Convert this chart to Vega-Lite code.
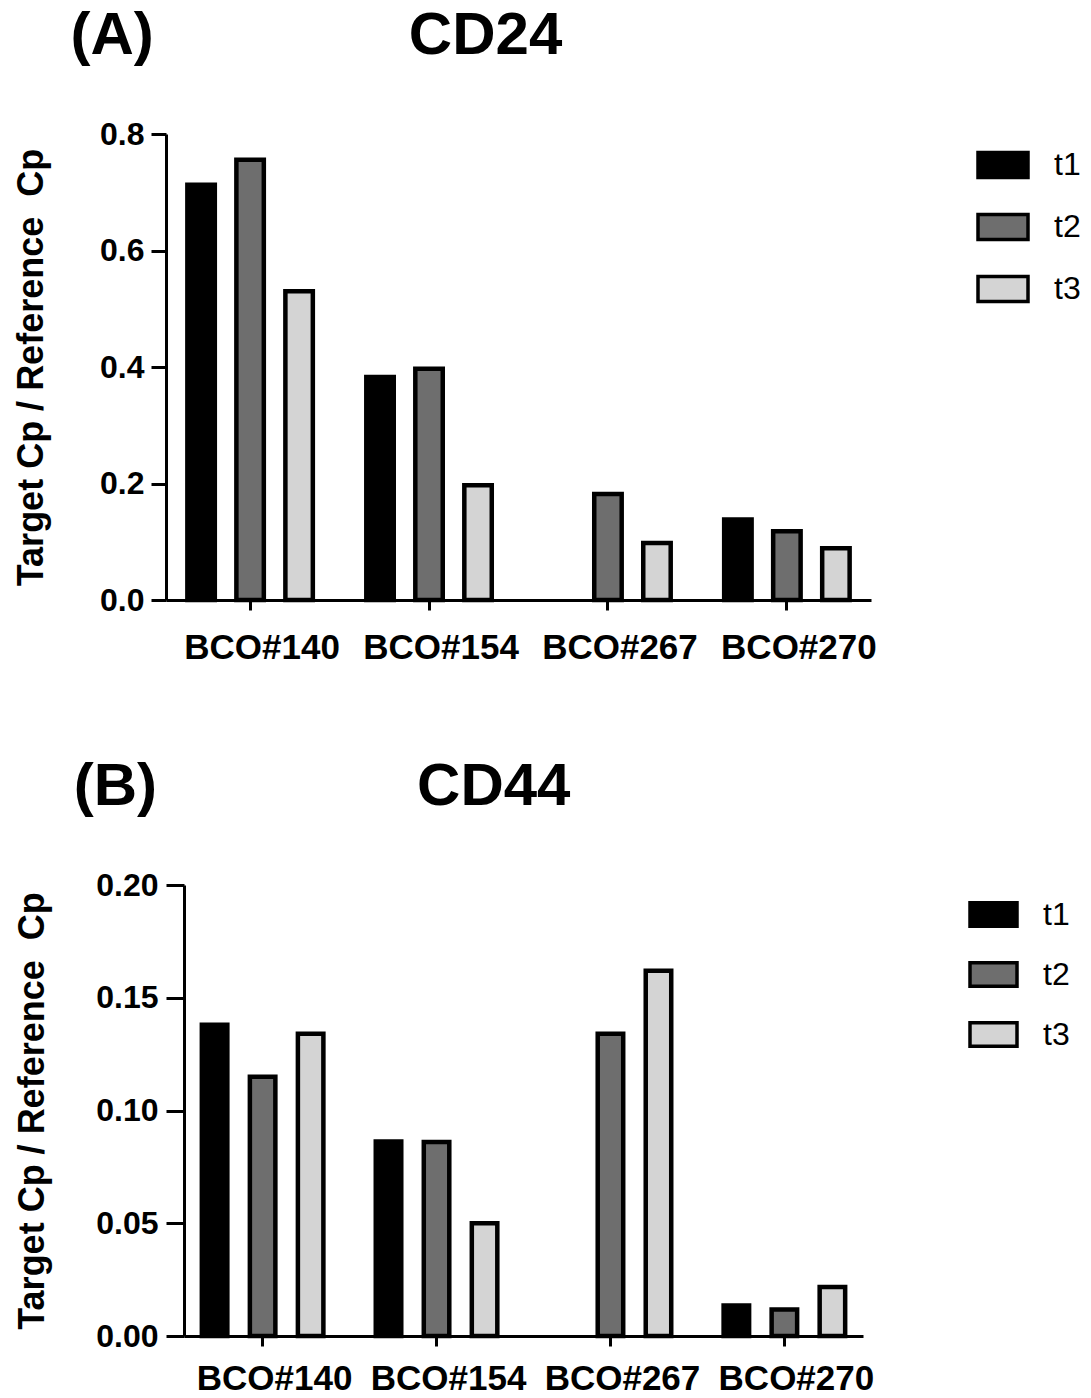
{
  "$schema": "https://vega.github.io/schema/vega-lite/v6.json",
  "background": "white",
  "padding": {"left": 13, "top": 6, "right": 5, "bottom": 5},
  "config": {
    "font": "Liberation Sans",
    "view": {"stroke": null},
    "axis": {
      "grid": false,
      "domainColor": "black",
      "domainWidth": 3,
      "tickColor": "black",
      "tickWidth": 3,
      "labelColor": "black",
      "titleColor": "black",
      "labelFont": "Liberation Sans",
      "titleFont": "Liberation Sans",
      "labelFontWeight": "bold",
      "titleFontWeight": "bold"
    },
    "legend": {
      "title": null,
      "orient": "right",
      "offset": 101,
      "padding": 4,
      "symbolType": "M-1,-0.5H1V0.5H-1Z",
      "symbolSize": 2500,
      "symbolStrokeColor": "black",
      "symbolStrokeWidth": 3.5,
      "labelFont": "Liberation Sans",
      "labelFontSize": 32,
      "labelFontWeight": "normal",
      "labelColor": "black",
      "labelOffset": 24,
      "rowPadding": 15
    },
    "title": {"font": "Liberation Sans", "fontWeight": "bold", "color": "black"}
  },
  "spacing": 92,
  "resolve": {
    "scale": {"x": "independent", "y": "independent", "xOffset": "independent", "color": "independent"}
  },
  "vconcat": [
    {
      "title": {"text": "(A)\u00a0\u00a0\u00a0\u00a0\u00a0\u00a0\u00a0\u00a0\u00a0\u00a0\u00a0\u00a0\u00a0\u00a0\u00a0\u200aCD24", "anchor": "start", "frame": "bounds", "dx": 57, "fontSize": 60, "offset": 51},
      "width": 705,
      "height": 466,
      "data": {
        "values": [
          {"line": "BCO#140", "time": "t1", "value": 0.713},
          {"line": "BCO#140", "time": "t2", "value": 0.756},
          {"line": "BCO#140", "time": "t3", "value": 0.530},
          {"line": "BCO#154", "time": "t1", "value": 0.383},
          {"line": "BCO#154", "time": "t2", "value": 0.397},
          {"line": "BCO#154", "time": "t3", "value": 0.197},
          {"line": "BCO#267", "time": "t2", "value": 0.182},
          {"line": "BCO#267", "time": "t3", "value": 0.098},
          {"line": "BCO#270", "time": "t1", "value": 0.138},
          {"line": "BCO#270", "time": "t2", "value": 0.118},
          {"line": "BCO#270", "time": "t3", "value": 0.089}
        ]
      },
      "mark": {"type": "bar", "stroke": "black", "strokeWidth": 4.5},
      "encoding": {
        "x": {
          "field": "line", "type": "nominal", "sort": null,
          "scale": {"paddingInner": 0.1, "paddingOuter": 0.02},
          "axis": {"title": null, "labelAngle": 0, "labelFontSize": 35, "tickSize": 10, "labelPadding": 20, "labelOffset": 12}
        },
        "xOffset": {
          "field": "time", "type": "nominal",
          "scale": {"domain": ["t1", "t2", "t3"], "paddingInner": 0.44, "paddingOuter": 0.363}
        },
        "y": {
          "field": "value", "type": "quantitative",
          "scale": {"domain": [0, 0.8]},
          "axis": {
            "values": [0, 0.2, 0.4, 0.6, 0.8], "format": ".1f",
            "title": "Target Cp / Reference \u00a0Cp", "titleFontSize": 36, "titlePadding": 49,
            "labelFontSize": 32, "tickSize": 15, "labelPadding": 7
          }
        },
        "color": {
          "field": "time", "type": "nominal",
          "scale": {"domain": ["t1", "t2", "t3"], "range": ["#000000", "#6e6e6e", "#d4d4d4"]}
        }
      }
    },
    {
      "title": {"text": "(B)\u00a0\u00a0\u00a0\u00a0\u00a0\u00a0\u00a0\u00a0\u00a0\u00a0\u00a0\u00a0\u00a0\u00a0\u00a0\u2006CD44", "anchor": "start", "frame": "bounds", "dx": 59, "fontSize": 60, "offset": 51},
      "width": 697,
      "height": 451,
      "data": {
        "values": [
          {"line": "BCO#140", "time": "t1", "value": 0.138},
          {"line": "BCO#140", "time": "t2", "value": 0.115},
          {"line": "BCO#140", "time": "t3", "value": 0.134},
          {"line": "BCO#154", "time": "t1", "value": 0.0863},
          {"line": "BCO#154", "time": "t2", "value": 0.086},
          {"line": "BCO#154", "time": "t3", "value": 0.050},
          {"line": "BCO#267", "time": "t2", "value": 0.134},
          {"line": "BCO#267", "time": "t3", "value": 0.162},
          {"line": "BCO#270", "time": "t1", "value": 0.0135},
          {"line": "BCO#270", "time": "t2", "value": 0.0117},
          {"line": "BCO#270", "time": "t3", "value": 0.0217}
        ]
      },
      "mark": {"type": "bar", "stroke": "black", "strokeWidth": 4.5},
      "encoding": {
        "x": {
          "field": "line", "type": "nominal", "sort": null,
          "scale": {"range": [18, 697], "paddingInner": 0.12, "paddingOuter": 0.012},
          "axis": {"title": null, "labelAngle": 0, "labelFontSize": 35, "tickSize": 10, "labelPadding": 15, "labelOffset": 12}
        },
        "xOffset": {
          "field": "time", "type": "nominal",
          "scale": {"domain": ["t1", "t2", "t3"], "paddingInner": 0.469, "paddingOuter": 0.328}
        },
        "y": {
          "field": "value", "type": "quantitative",
          "scale": {"domain": [0, 0.2]},
          "axis": {
            "values": [0, 0.05, 0.1, 0.15, 0.2], "format": ".2f", "offset": -18,
            "title": "Target Cp / Reference \u00a0Cp", "titleFontSize": 36, "titlePadding": 44,
            "labelFontSize": 32, "tickSize": 18, "labelPadding": 8
          }
        },
        "color": {
          "field": "time", "type": "nominal",
          "scale": {"domain": ["t1", "t2", "t3"], "range": ["#000000", "#6e6e6e", "#d4d4d4"]},
          "legend": {"symbolSize": 2209, "rowPadding": 15}
        }
      }
    }
  ]
}
